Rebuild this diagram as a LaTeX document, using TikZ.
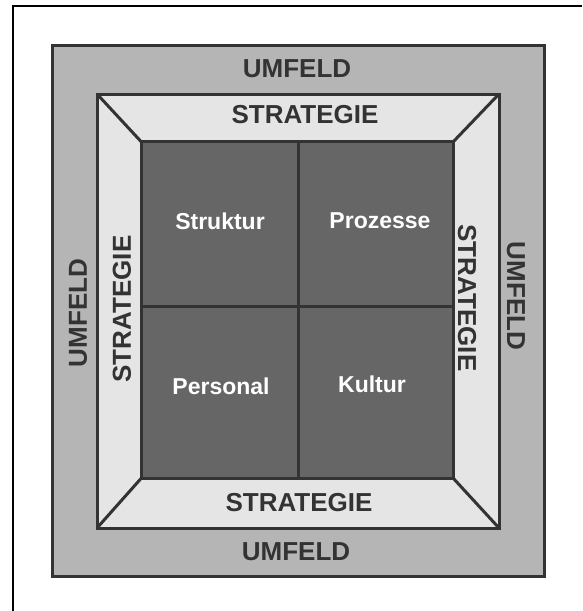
\documentclass[tikz,border=0pt]{standalone}
\usepackage{fontspec}
\setmainfont{Liberation Sans}
\usepackage{tikz}

\begin{document}
\begin{tikzpicture}[x=1pt,y=-1pt,
    frame/.style={draw=black!80,line width=3pt},
    band/.style={font=\bfseries\fontsize{26}{30}\selectfont,text=black!80,inner sep=0pt},
    cell/.style={font=\bfseries\fontsize{23}{27}\selectfont,text=white,inner sep=0pt}]
\useasboundingbox (0,0) rectangle (582,611);
% outer border
\draw[line width=1.5pt] (13,611) -- (13,6) -- (582,6);

% umfeld
\filldraw[frame,fill=black!29] (52.5,45) rectangle (544,576);
% strategie
\filldraw[frame,fill=black!10] (97,94) rectangle (499,528);
\draw[frame] (97,94) -- (141,141.5);
\draw[frame] (499,94) -- (453.5,141.5);
\draw[frame] (97,528) -- (141,478.5);
\draw[frame] (499,528) -- (453.5,478.5);
% kern
\filldraw[frame,fill=black!60] (141,141.5) rectangle (453.5,478.5);
\draw[frame] (298,141.5) -- (298,478.5);
\draw[frame] (141,306) -- (453.5,306);

\node[band] (umfeldT) at (297,69) {UMFELD};
\node[band] (umfeldB) at (296,551.5) {UMFELD};
\node[band,rotate=90] (umfeldL) at (78,313) {UMFELD};
\node[band,rotate=-90] (umfeldR) at (516,296) {UMFELD};

\node[band] (stratT) at (305,114.5) {STRATEGIE};
\node[band] (stratB) at (299,502.5) {STRATEGIE};
\node[band,rotate=90] (stratL) at (122,309) {STRATEGIE};
\node[band,rotate=-90] (stratR) at (467,298) {STRATEGIE};

\node[cell] (struktur) at (220,221) {Struktur};
\node[cell] (prozesse) at (380,221) {Prozesse};
\node[cell] (personal) at (221,386) {Personal};
\node[cell] (kultur) at (372,384) {Kultur};
\end{tikzpicture}
\end{document}
